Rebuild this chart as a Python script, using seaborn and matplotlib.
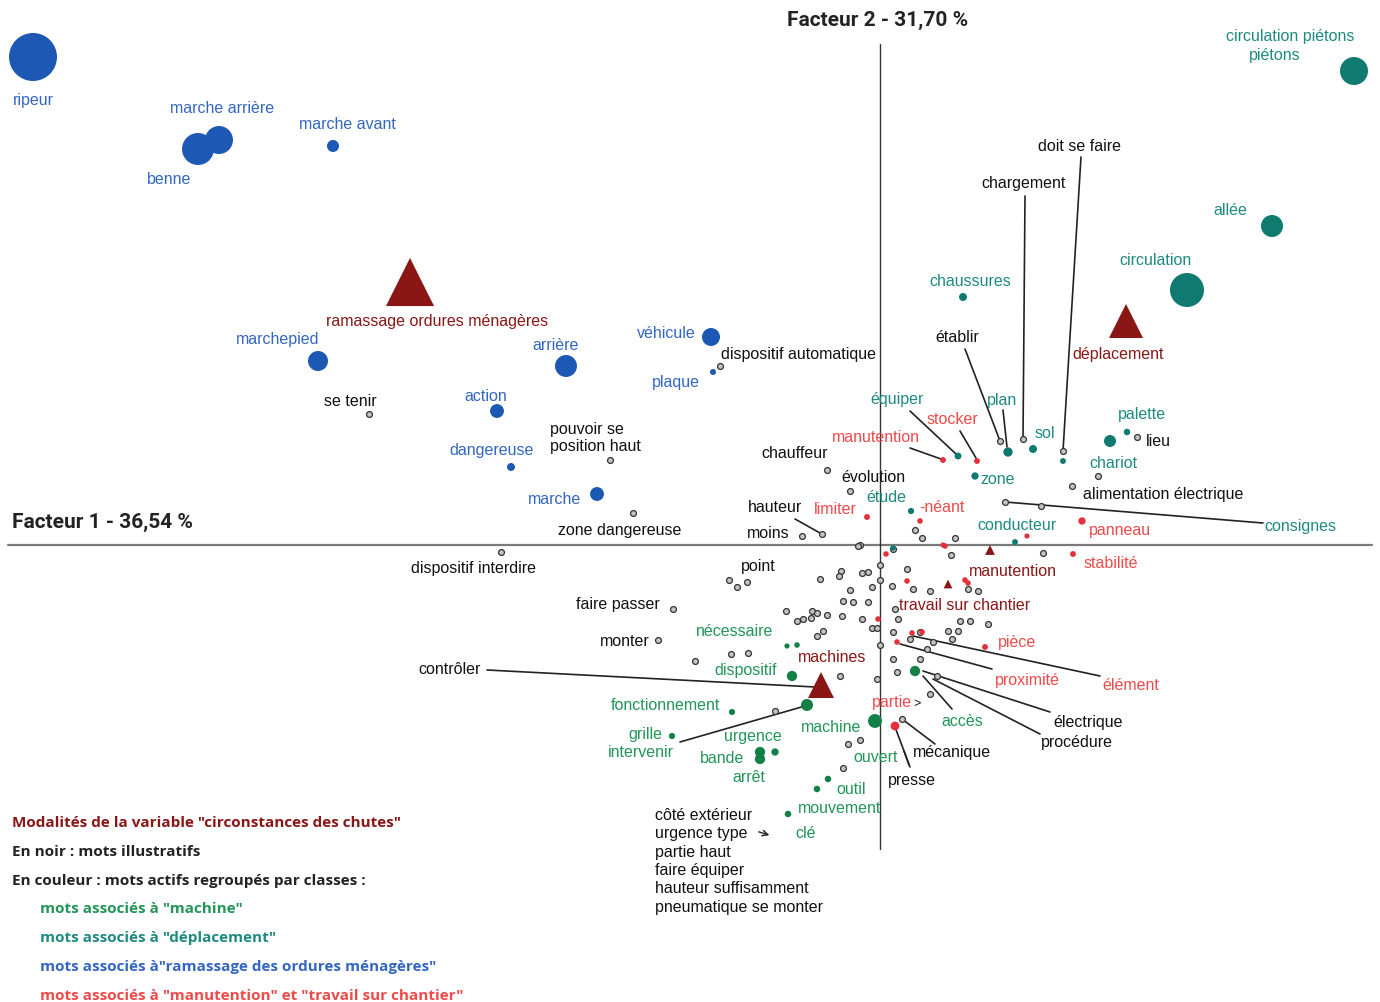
import pandas as pd
import matplotlib
matplotlib.use("Agg")
import matplotlib.pyplot as plt
import seaborn as sns

# mots actifs, classe "ramassage des ordures ménagères"
ramassage_f1 = [-8.47, -6.82, -6.61, -5.47, -5.62, -3.14, -3.83, -3.69, -2.83, -1.69, -1.67]
ramassage_f2 = [4.88, 3.96, 4.05, 3.99, 1.84, 1.79, 1.34, 0.78, 0.51, 2.08, 1.73]
ramassage_poids = [1195, 530, 406, 75, 207, 250, 100, 33, 100, 168, 19]

# mots actifs, classe "déplacement"
deplacement_f1 = [4.74, 3.92, 3.07, 0.83, 1.28, 1.53, 0.95, 0.78, 0.31, 2.30, 2.47, 1.83, 1.35, 0.13]
deplacement_f2 = [4.74, 3.19, 2.55, 2.48, 0.93, 0.96, 0.69, 0.89, 0.34, 1.04, 1.13, 0.84, 0.03, -0.03]
deplacement_poids = [406, 250, 600, 33, 45, 33, 28, 25, 20, 75, 22, 18, 18, 16]

# mots actifs, classe "machine"
machine_f1 = [-0.88, -0.83, -0.93, -1.48, -2.08, -0.73, -1.20, -1.20, -1.05, -0.05, -0.52, -0.63, -0.92, 0.35]
machine_f2 = [-1.31, -1.00, -1.01, -1.67, -1.91, -1.60, -2.07, -2.14, -2.07, -1.76, -2.34, -2.44, -2.69, -1.26]
machine_poids = [55, 16, 14, 20, 20, 75, 55, 55, 28, 100, 22, 22, 22, 55]

# mots actifs, classe "manutention" et "travail sur chantier"
manutention_f1 = [0.63, 0.97, -0.13, 0.40, 2.02, 1.93, 1.05, 0.17, 0.32, 0.06, 0.27, -0.02,
                  0.42, 0.85, 0.88, 0.65, 1.47, 0.15, 0.63]
manutention_f2 = [0.85, 0.84, 0.28, 0.24, 0.24, -0.09, -1.02, -0.97, -0.88, -0.09, -0.36, -0.74,
                  -0.87, -0.35, -0.38, -0.01, 0.09, -1.81, 0.00]
manutention_poids = [18, 18, 18, 16, 28, 18, 18, 16, 16, 16, 16, 16, 16, 16, 16, 16, 14, 40, 14]

# modalités de la variable "circonstances des chutes"
modalites = ["ramassage ordures ménagères", "déplacement", "machines", "manutention",
             "travail sur chantier"]
modalites_f1 = [-4.70, 2.46, -0.59, 1.10, 0.68]
modalites_f2 = [2.63, 2.24, -1.40, -0.05, -0.39]
modalites_poids = [1200, 600, 350, 50, 40]

# mots illustratifs (en noir)
illustratifs_f1 = [-5.11, -2.70, -2.47, -1.60, -0.53, -0.30, -0.58, -0.78, -3.79, -2.07, -2.22,
                   1.43, 1.83, 1.20, 1.92, 2.57, 1.25, 1.61, 2.18, 0.22, -1.05,
                   -1.51, -1.43, -1.33, -0.60, -0.39, -0.41, -0.18, -0.12, 0.00, 0.00, -0.30,
                   -0.08, -0.37, -0.27, -0.12, -0.94, -0.68, -0.63, -0.53, -0.38, -0.83, -0.77,
                   -0.69, -0.18, -0.57, -0.63, -0.08, -0.03, -1.49, -1.32, -1.85, -0.40, -0.03,
                   0.00, -0.20, 0.12, 0.33, 0.50, 0.27, 0.71, 0.18, 0.13, 0.40, 0.30, 0.17,
                   0.40, 0.57, 0.50, 0.13, 1.63, 0.88, 0.98, 0.15, 0.80, 0.90, 1.08, 0.68,
                   0.78, 0.72, 0.47, 0.53, 0.13, 0.35, 0.42, 0.75, -0.22, -0.32, -0.20, -0.37]
illustratifs_f2 = [1.31, 0.85, 0.32, 1.79, 0.75, 0.54, 0.11, 0.09, -0.07, -0.64, -0.95,
                   1.06, 0.94, 1.04, 0.59, 1.08, 0.43, 0.39, 0.69, -1.74, -1.66,
                   -0.35, -0.42, -0.37, -0.34, -0.26, -0.31, -0.28, -0.27, -0.20, -0.35, -0.45,
                   -0.42, -0.56, -0.57, -0.57, -0.66, -0.66, -0.68, -0.70, -0.71, -0.76, -0.74,
                   -0.73, -0.74, -0.86, -0.91, -0.83, -0.83, -1.09, -1.08, -1.16, -1.31, -1.34,
                   -1.00, 0.00, -0.41, -0.44, -0.46, -0.24, -0.10, -0.74, -0.87, -0.87, -0.94,
                   -1.27, -1.14, -1.31, -1.49, -0.04, -0.08, -0.44, -0.46, -0.64, -0.76, -0.76,
                   -0.79, -0.86, -0.86, -0.94, -1.04, -0.97, -1.14, 0.15, 0.07, 0.07, -0.01,
                   -1.99, -1.95, -2.23]

# --- étiquettes (texte, position) ---
etiq_ramassage = ["ripeur", "benne", "marche arrière", "marche avant", "marchepied", "arrière",
                  "action", "dangereuse", "marche", "véhicule", "plaque"]
etiq_ramassage_xy = [(-8.47, 4.46), (-7.11, 3.67), (-6.58, 4.38), (-5.33, 4.22), (-6.02, 2.07),
                     (-3.24, 2.01), (-3.94, 1.50), (-3.88, 0.95), (-3.25, 0.46), (-2.14, 2.13),
                     (-2.04, 1.64)]

etiq_deplacement = ["circulation piétons", "piétons", "allée", "circulation", "chaussures", "plan",
                    "sol", "zone", "équiper", "étude", "palette", "chariot", "conducteur",
                    "consignes"]
etiq_deplacement_xy = [(4.10, 5.10), (3.95, 4.91), (3.50, 3.36), (2.75, 2.86), (0.90, 2.65),
                       (1.22, 1.46), (1.65, 1.13), (1.18, 0.67), (0.17, 1.47), (0.06, 0.48),
                       (2.62, 1.32), (2.33, 0.83), (1.37, 0.21), (4.20, 0.19)]

etiq_machine = ["nécessaire", "dispositif", "fonctionnement", "grille", "intervenir", "urgence",
                "bande", "arrêt", "machine", "outil", "mouvement", "clé", "accès", "ouvert"]
etiq_machine_xy = [(-1.45, -0.86), (-1.34, -1.24), (-2.15, -1.59), (-2.35, -1.88), (-2.39, -2.07),
                   (-1.27, -1.91), (-1.58, -2.13), (-1.31, -2.31), (-0.49, -1.82), (-0.29, -2.44),
                   (-0.40, -2.63), (-0.74, -2.88), (0.82, -1.76), (-0.04, -2.12)]

etiq_manutention = ["manutention", "stocker", "limiter", "-néant", "panneau", "stabilité",
                    "pièce", "proximité", "élément", "partie"]
etiq_manutention_xy = [(-0.04, 1.08), (0.72, 1.27), (-0.45, 0.36), (0.62, 0.39), (2.40, 0.15),
                       (2.31, -0.17), (1.37, -0.96), (1.47, -1.35), (2.51, -1.39), (0.12, -1.57)]

etiq_modalites_xy = [(-4.43, 2.25), (2.38, 1.92), (-0.48, -1.11), (1.33, -0.25), (0.85, -0.59)]

etiq_illustratifs = ["se tenir", "dispositif automatique", "zone dangereuse", "chauffeur",
                     "évolution", "hauteur", "moins", "dispositif interdire", "point",
                     "faire passer", "monter", "contrôler", "chargement", "doit se faire",
                     "établir", "alimentation électrique", "lieu", "électrique", "procédure",
                     "mécanique", "presse"]
etiq_illustratifs_xy = [(-5.30, 1.45), (-0.82, 1.92), (-2.60, 0.16), (-0.85, 0.92), (-0.07, 0.68),
                        (-1.05, 0.38), (-1.12, 0.13), (-4.07, -0.23), (-1.22, -0.20),
                        (-2.62, -0.58), (-2.55, -0.95), (-4.30, -1.23), (1.44, 3.63),
                        (2.00, 4.00), (0.77, 2.09), (2.83, 0.51), (2.78, 1.04), (2.08, -1.77),
                        (1.97, -1.96), (0.72, -2.07), (0.32, -2.35)]

liste_bas = ["côté extérieur", "urgence type", "partie haut", "faire équiper",
             "hauteur suffisamment", "pneumatique se monter"]

# traits de rappel entre étiquette et point
traits = [((-3.93, -1.25), (-0.65, -1.42)), ((-2.00, -1.97), (-0.75, -1.61)),
          ((-0.85, 0.26), (-0.60, 0.12)), ((1.45, 3.49), (1.43, 1.06)),
          ((2.01, 3.88), (1.83, 0.94)), ((0.85, 1.96), (1.20, 1.04)),
          ((1.23, 1.35), (1.27, 0.98)), ((0.30, 1.34), (0.76, 0.91)),
          ((0.30, 0.97), (0.61, 0.86)), ((0.80, 1.14), (0.96, 0.87)),
          ((3.83, 0.22), (1.25, 0.43)), ((2.20, -1.31), (0.33, -0.91)),
          ((1.12, -1.24), (0.20, -0.99)), ((1.70, -1.67), (0.43, -1.26)),
          ((1.60, -1.89), (0.53, -1.34)), ((0.72, -1.64), (0.43, -1.31)),
          ((0.55, -1.99), (0.22, -1.74)), ((0.30, -2.22), (0.15, -1.82)),
          ((0.24, -2.06), (0.29, -2.20))]

legende = ['Modalités de la variable "circonstances des chutes"',
           "En noir : mots illustratifs",
           "En couleur : mots actifs regroupés par classes :",
           'mots associés à "machine"',
           'mots associés à "déplacement"',
           'mots associés à"ramassage des ordures ménagères"',
           'mots associés à "manutention" et "travail sur chantier"']

# --- couleurs ---
couleurs = {"ramassage": "#1d58b4", "deplacement": "#0f7a70",
            "machine": "#138048", "manutention": "#e4303a"}
couleurs_txt = {"ramassage": "#3366c2", "deplacement": "#1f8a80",
                "machine": "#239558", "manutention": "#ee4a4a"}
ROUGE_FONCE = "#8a1616"

actifs = pd.concat([
    pd.DataFrame({"f1": ramassage_f1, "f2": ramassage_f2, "poids": ramassage_poids, "classe": "ramassage"}),
    pd.DataFrame({"f1": deplacement_f1, "f2": deplacement_f2, "poids": deplacement_poids, "classe": "deplacement"}),
    pd.DataFrame({"f1": machine_f1, "f2": machine_f2, "poids": machine_poids, "classe": "machine"}),
    pd.DataFrame({"f1": manutention_f1, "f2": manutention_f2, "poids": manutention_poids, "classe": "manutention"}),
], ignore_index=True)
mods = pd.DataFrame({"f1": modalites_f1, "f2": modalites_f2, "poids": modalites_poids})
illus = pd.DataFrame({"f1": illustratifs_f1, "f2": illustratifs_f2})

sns.set_style("white")
plt.rcParams["font.family"] = ["Liberation Sans", "DejaVu Sans"]
GRAS = ["Roboto", "DejaVu Sans"]
GRAS_LEG = ["Open Sans", "DejaVu Sans"]

fig = plt.figure(figsize=(13.8, 10.03), dpi=100)
ax = fig.add_axes([0, 0, 1, 1])
ax.set_xlim(-8.80, 5.00)
ax.set_ylim(-4.57, 5.46)
ax.axis("off")

# axes factoriels
ax.plot([-8.72, 4.92], [0, 0], color="#7a7a7a", lw=1.6, zorder=1)
ax.plot([0, 0], [5.01, -3.04], color="#333333", lw=1.0, zorder=1)
ax.text(-0.02, 5.26, "Facteur 2 - 31,70 %", ha="center", va="center", fontsize=15,
        fontweight="bold", family=GRAS, color="#222222")
ax.text(-8.68, 0.24, "Facteur 1 - 36,54 %", ha="left", va="center", fontsize=15,
        fontweight="bold", family=GRAS, color="#222222")

for (a, b) in traits:
    ax.plot([a[0], b[0]], [a[1], b[1]], color="#222222", lw=1.2, zorder=2)
ax.annotate("", xy=(-1.08, -2.91), xytext=(-1.24, -2.86),
            arrowprops=dict(arrowstyle="->", color="#222222", lw=1))

sns.scatterplot(data=illus, x="f1", y="f2", s=18, color="#c4c4c4", edgecolor="#333333",
                linewidth=0.9, legend=False, ax=ax, zorder=3)
sns.scatterplot(data=actifs, x="f1", y="f2", hue="classe", palette=couleurs, size="poids",
                sizes=(actifs["poids"].min(), actifs["poids"].max()), linewidth=0,
                legend=False, ax=ax, zorder=4)
sns.scatterplot(data=mods, x="f1", y="f2", size="poids",
                sizes=(mods["poids"].min(), mods["poids"].max()), marker="^",
                color=ROUGE_FONCE, linewidth=0, legend=False, ax=ax, zorder=5)
ax.set_xlabel("")
ax.set_ylabel("")

FS = 11.5
for mots, pos, cle in [(etiq_ramassage, etiq_ramassage_xy, "ramassage"),
                       (etiq_deplacement, etiq_deplacement_xy, "deplacement"),
                       (etiq_machine, etiq_machine_xy, "machine"),
                       (etiq_manutention, etiq_manutention_xy, "manutention")]:
    for m, (x, y) in zip(mots, pos):
        ax.text(x, y, m, ha="center", va="center", fontsize=FS, color=couleurs_txt[cle], zorder=6)

for m, (x, y) in zip(modalites, etiq_modalites_xy):
    ax.text(x, y, m, ha="center", va="center", fontsize=FS, color=ROUGE_FONCE, zorder=6)

for m, (x, y) in zip(etiq_illustratifs, etiq_illustratifs_xy):
    ax.text(x, y, m, ha="center", va="center", fontsize=FS, color="#111111", zorder=6)
ax.text(-3.30, 1.08, "pouvoir se\nposition haut", ha="left", va="center", fontsize=FS,
        color="#111111", linespacing=1.1, zorder=6)
ax.text(0.37, -1.58, ">", ha="center", va="center", fontsize=9, color="#111111")

for i, m in enumerate(liste_bas):
    ax.text(-2.25, -2.69 - 0.185 * i, m, ha="left", va="center", fontsize=FS, color="#111111")

# légende
coul_leg = [ROUGE_FONCE, "#222222", "#222222", couleurs_txt["machine"],
            couleurs_txt["deplacement"], couleurs_txt["ramassage"], couleurs_txt["manutention"]]
for i, (t, c) in enumerate(zip(legende, coul_leg)):
    x0 = -8.68 if i < 3 else -8.40
    ax.text(x0, -2.77 - 0.288 * i, t, ha="left", va="center", fontsize=11,
            fontweight="bold", family=GRAS_LEG, color=c)

fig.savefig("out.png", dpi=100)
plt.close(fig)
